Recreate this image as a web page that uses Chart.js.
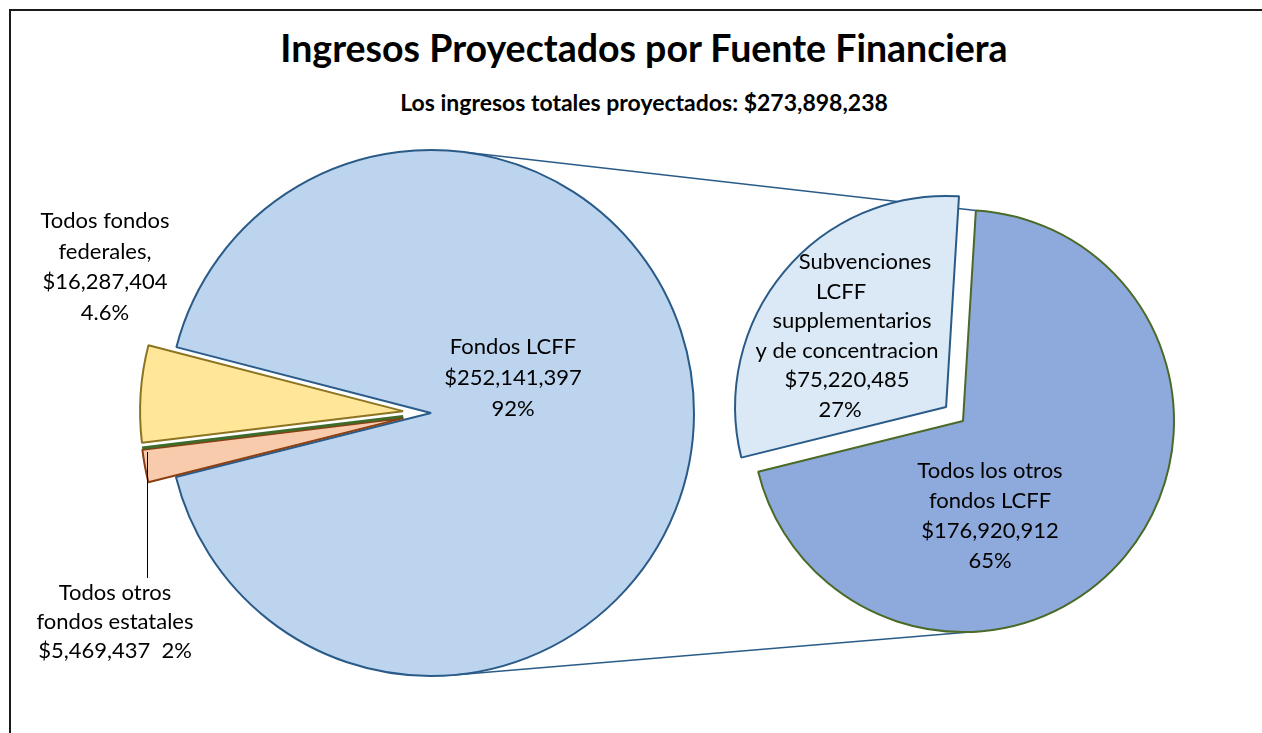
<!DOCTYPE html>
<html>
<head>
<meta charset="utf-8">
<title>Ingresos Proyectados por Fuente Financiera</title>
<script src="https://cdn.jsdelivr.net/npm/chart.js@4.4.1/dist/chart.umd.min.js"></script>
<style>
  html, body { margin: 0; padding: 0; background: #fff; overflow: hidden; }
  body { width: 1262px; height: 733px; position: relative; font-family: Lato, "Open Sans", sans-serif; }
  #frame { position: absolute; left: 9px; top: 9px; width: 1300px; height: 800px;
           border-top: 2px solid #1a1a1a; border-left: 2px solid #1a1a1a; }
  canvas { position: absolute; left: 0; top: 0; }
  .title { position: absolute; left: 0; width: 1288px; text-align: center; font-weight: bold; color: #000; line-height: 1.2; }
  #t1 { top: 25px; font-size: 37.5px; }
  #t2 { top: 89px; font-size: 23px; }
</style>
</head>
<body>
<div id="frame"></div>
<div class="title" id="t1">Ingresos Proyectados por Fuente Financiera</div>
<div class="title" id="t2">Los ingresos totales proyectados: $273,898,238</div>
<canvas id="js-chart-fuentes" width="1262" height="733"></canvas>
<canvas id="js-chart-lcff" width="1262" height="733"></canvas>
<script>
// Left pie: all funding sources (local funds are 0, Excel still draws their edge)
const fuenteNames = [['Fondos LCFF'], ['Todos otros', 'fondos estatales'], [], ['Todos fondos', 'federales,']];
const fuenteValues = [252141397, 5469437, 0, 16287404];
const fuentePcts = ['92%', '2%', '', '4.6%'];

// Right pie: split of the LCFF funds
const lcffNames = [['Todos los otros', 'fondos LCFF'], ['Subvenciones', 'LCFF', 'supplementarios', 'y de concentracion']];
const lcffValues = [176920912, 75220485];
const lcffPcts = ['65%', '27%'];

const money = v => '$' + v.toLocaleString('en-US');

// Exploded pie: pulls single slices out along their bisector without resizing them
class ExplodedPieController extends Chart.PieController {
  draw() {
    const ctx = this.chart.ctx;
    const area = this.chart.chartArea;
    const explode = this.getDataset().explode || [];
    this._cachedMeta.data.forEach((arc, i) => {
      const d = explode[i] || 0;
      const mid = (arc.startAngle + arc.endAngle) / 2;
      ctx.save();
      ctx.translate(Math.cos(mid) * d, Math.sin(mid) * d);
      if (arc.circumference === 0) {
        ctx.strokeStyle = arc.options.borderColor;
        ctx.lineWidth = arc.options.borderWidth + 1;
        ctx.beginPath();
        ctx.moveTo(arc.x, arc.y);
        ctx.lineTo(arc.x + Math.cos(arc.startAngle) * arc.outerRadius, arc.y + Math.sin(arc.startAngle) * arc.outerRadius);
        ctx.stroke();
      } else {
        arc.draw(ctx, area);
      }
      ctx.restore();
    });
  }
}
ExplodedPieController.id = 'explodedPie';
ExplodedPieController.defaults = Chart.PieController.defaults;
Chart.register(ExplodedPieController);

function drawLines(ctx, lines, x, y, lh) {
  ctx.save();
  ctx.fillStyle = '#000';
  ctx.font = '22px Lato, "Open Sans", sans-serif';
  ctx.textAlign = 'center';
  ctx.textBaseline = 'middle';
  lines.forEach((t, i) => {
    const px = Array.isArray(x) ? x[i] : x;
    ctx.fillText(t, px, y + i * lh);
  });
  ctx.restore();
}

const fuenteLabels = {
  id: 'fuenteLabels',
  afterDraw(chart) {
    const ctx = chart.ctx;
    drawLines(ctx, [...fuenteNames[0], money(fuenteValues[0]), fuentePcts[0]], 513, 347, 31);
    drawLines(ctx, [...fuenteNames[3], money(fuenteValues[3]), fuentePcts[3]], 105, 221, 30.7);
    drawLines(ctx, [...fuenteNames[1], money(fuenteValues[1]) + '  ' + fuentePcts[1]], 115, 593, 29);
    // leader line for the small state slice
    ctx.save();
    ctx.strokeStyle = '#000';
    ctx.lineWidth = 1;
    ctx.beginPath();
    ctx.moveTo(147.5, 452);
    ctx.lineTo(147.5, 578);
    ctx.stroke();
    ctx.restore();
  }
};

let chartFuentes = new Chart(document.getElementById('js-chart-fuentes'), {
  type: 'explodedPie',
  data: {
    labels: fuenteNames.map(n => n.join(' ')),
    datasets: [{
      data: fuenteValues,
      backgroundColor: ['#BCD4EE', '#F8CBAD', '#A9D18E', '#FFE699'],
      borderColor: ['#2A5B88', '#8A3E12', '#3F6B2A', '#8C7420'],
      borderWidth: 2,
      explode: [0, 28, 28, 28]
    }]
  },
  options: {
    responsive: false,
    animation: false,
    events: [],
    rotation: 284.5,
    radius: 263,
    layout: { padding: { left: 168, top: 150, right: 568, bottom: 57 } },
    plugins: { legend: { display: false }, tooltip: { enabled: false } }
  },
  plugins: [fuenteLabels]
});

const lcffExtras = {
  id: 'lcffExtras',
  beforeDatasetsDraw(chart) {
    // connector lines from the LCFF slice to the breakdown pie
    const ctx = chart.ctx;
    const a = chartFuentes.getDatasetMeta(0).data[0];
    const b = chart.getDatasetMeta(0).data[0];
    const rad = d => d * Math.PI / 180;
    const pt = (arc, deg) => [arc.x + Math.cos(rad(deg)) * arc.outerRadius, arc.y + Math.sin(rad(deg)) * arc.outerRadius];
    const segs = [[pt(a, 278), pt(b, 273.5)], [pt(a, 85), pt(b, 84)]];
    ctx.save();
    ctx.strokeStyle = '#2A5B88';
    ctx.lineWidth = 1.5;
    segs.forEach(([p, q]) => {
      ctx.beginPath();
      ctx.moveTo(p[0], p[1]);
      ctx.lineTo(q[0], q[1]);
      ctx.stroke();
    });
    ctx.restore();
  },
  afterDraw(chart) {
    const ctx = chart.ctx;
    drawLines(ctx, [...lcffNames[1], money(lcffValues[1]), lcffPcts[1]], [865, 841, 852, 847, 847, 840], 262, 29.6);
    drawLines(ctx, [...lcffNames[0], money(lcffValues[0]), lcffPcts[0]], 990, 471, 30);
  }
};

let chartLcff = new Chart(document.getElementById('js-chart-lcff'), {
  type: 'explodedPie',
  data: {
    labels: lcffNames.map(n => n.join(' ')),
    datasets: [{
      data: lcffValues,
      backgroundColor: ['#8EA9DB', '#DAE9F5'],
      borderColor: ['#4A6A28', '#2A5B88'],
      borderWidth: 2,
      explode: [0, 22]
    }]
  },
  options: {
    responsive: false,
    animation: false,
    events: [],
    rotation: 3.5,
    radius: 211,
    layout: { padding: { left: 752, top: 210, right: 88, bottom: 101 } },
    plugins: { legend: { display: false }, tooltip: { enabled: false } }
  },
  plugins: [lcffExtras]
});
</script>
</body>
</html>
